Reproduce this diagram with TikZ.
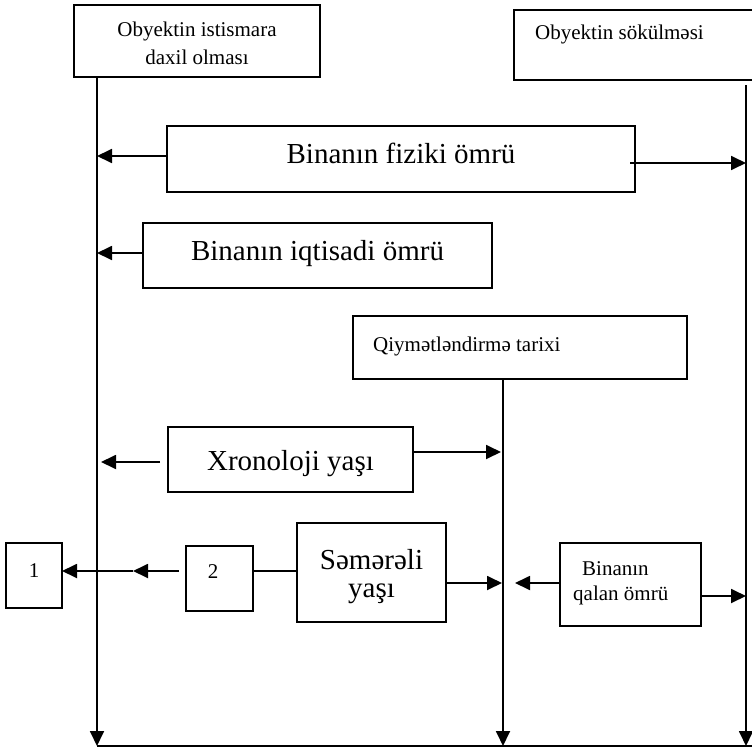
\documentclass[tikz,border=0pt]{standalone}
\usepackage{fontspec}
\setmainfont{Liberation Serif}
\usetikzlibrary{arrows.meta}

\begin{document}
\begin{tikzpicture}[x=1pt, y=-1pt,
  frame/.style={draw, line width=1.8pt, inner sep=0pt, outer sep=0pt},
  big/.style={font=\fontsize{29}{34}\selectfont, inner sep=0pt, anchor=base},
  small/.style={font=\fontsize{21}{26}\selectfont, inner sep=0pt, anchor=base},
  smallleft/.style={small, anchor=base west},
  wire/.style={line width=1.8pt},
  arr/.style={wire, -{Triangle[length=15pt,width=14pt]}},
]
\useasboundingbox (0,0) rectangle (752,752);

% ---- boxes ----
\node[frame, minimum width=246, minimum height=72] (start) at (197,41) {};
\node[frame, minimum width=256, minimum height=70] (demol) at (642,45) {};
\node[frame, minimum width=468, minimum height=66] (phys) at (401,159) {};
\node[frame, minimum width=349, minimum height=65] (econ) at (317.5,255.5) {};
\node[frame, minimum width=334, minimum height=63] (valdate) at (520,347.5) {};
\node[frame, minimum width=245, minimum height=65] (chrono) at (290.5,459.5) {};
\node[frame, minimum width=149, minimum height=99] (effect) at (371.5,572.5) {};
\node[frame, minimum width=56, minimum height=65] (one) at (34,575.5) {};
\node[frame, minimum width=67, minimum height=65] (two) at (219.5,578.5) {};
\node[frame, minimum width=141, minimum height=83] (remain) at (630.5,584.5) {};

% ---- texts ----
\node[small] (startA) at (197,37) {Obyektin istismara};
\node[small] (startB) at (197,65) {daxil olması};
\node[smallleft] (demolT) at (535,40) {Obyektin sökülməsi};
\node[big] (physT) at (401,163) {Binanın fiziki ömrü};
\node[big] (econT) at (317.5,260) {Binanın iqtisadi ömrü};
\node[smallleft] (valdateT) at (373,351) {Qiymətləndirmə tarixi};
\node[big] (chronoT) at (290.5,470) {Xronoloji yaşı};
\node[big] (effectA) at (371.5,569) {Səmərəli};
\node[big] (effectB) at (371.5,597) {yaşı};
\node[small] (oneT) at (34,577) {1};
\node[small] (twoT) at (213,578) {2};
\node[smallleft] (remainA) at (582,575) {Binanın};
\node[smallleft] (remainB) at (573,600) {qalan ömrü};

% ---- time axes ----
\coordinate (botL) at (97,746);
\coordinate (botM) at (503,746);
\coordinate (topR) at (746,85);
\coordinate (botR) at (746,746);
\coordinate (baseEnd) at (756,746);
\draw[arr] (start.south -| botL) -- (botL);
\draw[arr] (valdate.south -| botM) -- (botM);
\draw[arr] (topR) -- (botR);
\draw[line width=2.4pt] (botL) -- (baseEnd);

% ---- arrow ends on the axes ----
\coordinate (physL) at (97,156);
\coordinate (physR) at (746,163);
\coordinate (econL) at (97,253);
\coordinate (chronoL) at (97,462);
\coordinate (chronoR) at (503,452);
\coordinate (effectR) at (503,583);
\coordinate (remainL) at (503,583);
\coordinate (remainR) at (746,596);
\coordinate (midTip) at (133,571);

\draw[arr] (phys.west |- physL) -- (physL);
\draw[arr, shorten <=-5pt] (phys.east |- physR) -- (physR);
\draw[arr] (econ.west |- econL) -- (econL);
\draw[arr, shorten <=8pt, shorten >=4pt] (chrono.west |- chronoL) -- (chronoL);
\draw[arr, shorten >=2pt] (chrono.east |- chronoR) -- (chronoR);
\draw[arr, shorten >=1pt] (effect.east |- effectR) -- (effectR);
\draw[arr, shorten >=12pt] (remain.west |- remainL) -- (remainL);
\draw[arr] (remain.east |- remainR) -- (remainR);

% ---- 2 -> 1 chain ----
\draw[wire] (two.east |- midTip) -- (effect.west |- midTip);
\draw[arr, shorten <=7pt] (two.west |- midTip) -- (midTip);
\draw[arr] (midTip) -- (one.east |- midTip);
\end{tikzpicture}
\end{document}
